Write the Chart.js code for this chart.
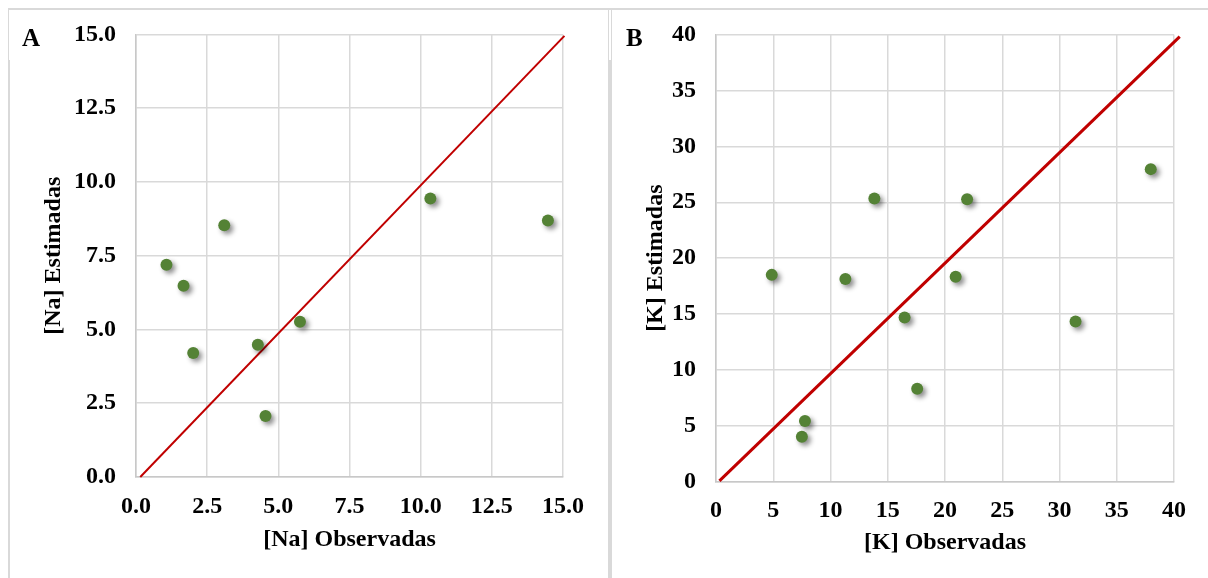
<!DOCTYPE html>
<html lang="pt-BR">
<head>
  <meta charset="UTF-8">
  <title>[Na] e [K] Observadas vs Estimadas</title>
  <script src="https://cdn.jsdelivr.net/npm/chart.js"></script>
  <style>
    body {
      margin: 0;
      width: 1208px;
      height: 578px;
      background: #fff;
      position: relative;
      overflow: hidden;
      font-family: "Liberation Serif", "Times New Roman", serif;
    }
    .painel {
      position: absolute;
      top: 0;
      width: 604px;
      height: 578px;
    }
    .linha {
      position: absolute;
      background: #d9d9d9;
    }
    .letra {
      position: absolute;
      font-weight: bold;
      font-size: 25px;
      color: #000;
    }
  </style>
</head>
<body>
  <!-- bordas dos quadros -->
  <div class="linha" style="left:8px; top:8px; width:1200px; height:2px;"></div>
  <div class="linha" style="left:8px; top:9px; width:1px; height:52px;"></div>
  <div class="linha" style="left:8px; top:60px; width:2px; height:518px;"></div>
  <div class="linha" style="left:608px; top:9px; width:1px; height:52px;"></div>
  <div class="linha" style="left:611px; top:9px; width:1px; height:52px;"></div>
  <div class="linha" style="left:608px; top:60px; width:4px; height:518px;"></div>

  <div class="painel" style="left:0;"><canvas id="graficoNa" width="604" height="578"></canvas></div>
  <div class="painel" style="left:604px;"><canvas id="graficoK" width="604" height="578"></canvas></div>

  <div class="letra" style="left:22px; top:24px;">A</div>
  <div class="letra" style="left:626px; top:24px;">B</div>

  <script>
    // Painel A - sódio
    const naObservadas = [1.07, 1.67, 2.01, 3.10, 4.28, 4.55, 5.76, 10.34, 14.47];
    const naEstimadas  = [7.19, 6.48, 4.20, 8.53, 4.48, 2.07, 5.26, 9.44, 8.69];
    const naLinhaX = [0.15, 15.05];
    const naLinhaY = [0, 14.95];

    // Painel B - potássio
    const kObservadas = [4.87, 7.50, 7.77, 11.30, 13.83, 16.47, 17.57, 20.93, 21.93, 31.40, 37.97];
    const kEstimadas  = [18.51, 4.04, 5.45, 18.15, 25.33, 14.70, 8.33, 18.34, 25.27, 14.34, 27.96];
    const kLinhaX = [0.3, 40.5];
    const kLinhaY = [0.1, 39.8];

    const fonte = { family: "'Liberation Serif', 'Times New Roman', serif", size: 24, weight: 'bold' };

    // sombra nos pontos verdes, como no Excel
    const sombra = {
      id: 'sombra',
      beforeDatasetDraw(chart, args) {
        if (args.index !== 0) return;
        const ctx = chart.ctx;
        ctx.save();
        ctx.shadowColor = 'rgba(0,0,0,0.45)';
        ctx.shadowBlur = 5;
        ctx.shadowOffsetX = 3;
        ctx.shadowOffsetY = 3;
      },
      afterDatasetDraw(chart, args) {
        if (args.index !== 0) return;
        chart.ctx.restore();
      }
    };

    function pares(xs, ys) {
      return xs.map((x, i) => ({ x: x, y: ys[i] }));
    }

    function criarGrafico(id, cfg) {
      return new Chart(document.getElementById(id), {
        type: 'scatter',
        data: {
          datasets: [
            {
              data: pares(cfg.obs, cfg.est),
              backgroundColor: '#548235',
              borderWidth: 0,
              pointRadius: 6,
              pointHoverRadius: 6
            },
            {
              data: pares(cfg.linhaX, cfg.linhaY),
              showLine: true,
              borderColor: '#c00000',
              borderWidth: cfg.larguraLinha,
              pointRadius: 0,
              clip: false
            }
          ]
        },
        options: {
          responsive: false,
          animation: false,
          layout: { padding: { left: 0, right: cfg.direita, top: cfg.topo, bottom: 0 } },
          plugins: { legend: { display: false }, tooltip: { enabled: false } },
          scales: {
            x: {
              type: 'linear',
              min: cfg.min, max: cfg.max,
              afterFit(scale) { scale.height = cfg.alturaX; },
              ticks: {
                stepSize: cfg.passo,
                padding: cfg.padX,
                color: '#000',
                font: fonte,
                callback: cfg.formato
              },
              grid: { color: '#d9d9d9', lineWidth: 1.5, drawTicks: false },
              border: { color: '#c8c8c8', width: 1.5 },
              title: {
                display: true, text: cfg.tituloX, color: '#000', font: fonte,
                padding: { top: 0, bottom: cfg.padTituloX }
              }
            },
            y: {
              type: 'linear',
              min: cfg.min, max: cfg.max,
              afterFit(scale) { scale.width = cfg.larguraY; },
              ticks: {
                stepSize: cfg.passo,
                padding: 20,
                color: '#000',
                font: fonte,
                callback: cfg.formato
              },
              grid: { color: '#d9d9d9', lineWidth: 1.5, drawTicks: false },
              border: { color: '#c8c8c8', width: 1.5 },
              title: {
                display: true, text: cfg.tituloY, color: '#000', font: fonte,
                padding: { top: cfg.padTituloY, bottom: 0 }
              }
            }
          }
        },
        plugins: [sombra]
      });
    }

    criarGrafico('graficoNa', {
      obs: naObservadas, est: naEstimadas, linhaX: naLinhaX, linhaY: naLinhaY,
      min: 0, max: 15, passo: 2.5,
      formato: v => v.toFixed(1),
      tituloX: '[Na] Observadas', tituloY: '[Na] Estimadas',
      larguraLinha: 2,
      direita: 41, topo: 34, alturaX: 101, larguraY: 136,
      padX: 15, padTituloX: 24, padTituloY: 39
    });

    criarGrafico('graficoK', {
      obs: kObservadas, est: kEstimadas, linhaX: kLinhaX, linhaY: kLinhaY,
      min: 0, max: 40, passo: 5,
      formato: v => String(v),
      tituloX: '[K] Observadas', tituloY: '[K] Estimadas',
      larguraLinha: 3,
      direita: 34, topo: 33, alturaX: 96, larguraY: 112,
      padX: 14, padTituloX: 21, padTituloY: 37
    });
  </script>
</body>
</html>
